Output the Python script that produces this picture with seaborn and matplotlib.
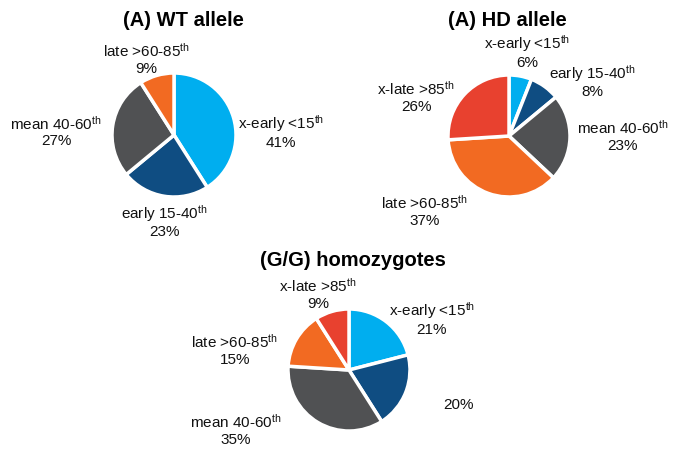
import matplotlib
matplotlib.use("Agg")
import matplotlib.pyplot as plt
import seaborn as sns

sns.set_theme(style="white")
plt.rcParams["font.family"] = ["Liberation Sans", "DejaVu Sans"]
plt.rcParams["mathtext.fontset"] = "custom"
plt.rcParams["mathtext.rm"] = "Liberation Sans"
plt.rcParams["mathtext.it"] = "Liberation Sans"

# Onset-age categories (percentile bands)
categories = ["x-early <15", "early 15-40", "mean 40-60", "late >60-85", "x-late >85"]
colors = sns.color_palette(["#00AEEF", "#0F4D82", "#505153", "#F26A22", "#E8412F"])

wt_values = [41, 23, 27, 9]
hd_values = [6, 8, 23, 37, 26]
gg_values = [21, 20, 35, 15, 9]

titles = ["(A) WT allele", "(A) HD allele", "(G/G) homozygotes"]

W, H = 675, 449
fig = plt.figure(figsize=(W / 100, H / 100), dpi=100)
ax = fig.add_axes([0, 0, 1, 1])
ax.set_xlim(0, W)
ax.set_ylim(0, H)
ax.set_aspect("equal")
ax.axis("off")

# pie layout: centre (x, y from top), radius, title position, label offsets (in radii)
panels = [
    dict(values=wt_values, cx=174, cy=135, r=62, tx=183, ty=20,
         offsets=[(1.73, 0.06), (-0.15, -1.39), (-1.9, 0.06), (-0.44, 1.23)],
         show_name=[True, True, True, True]),
    dict(values=hd_values, cx=509, cy=136, r=61, tx=507, ty=21,
         offsets=[(0.30, 1.38), (1.36, 0.9), (1.86, 0.0), (-1.39, -1.23), (-1.52, 0.64)],
         show_name=[True, True, True, True, True]),
    dict(values=gg_values, cx=349, cy=370, r=61, tx=353, ty=260,
         offsets=[(1.36, 0.84), (1.79, -0.57), (-1.85, -0.98), (-1.87, 0.33), (-0.51, 1.25)],
         show_name=[True, False, True, True, True]),
]

for title, p in zip(titles, panels):
    n = len(p["values"])
    cx, cy = p["cx"], H - p["cy"]
    ax.pie(p["values"], colors=colors[:n], startangle=90, counterclock=False,
           center=(cx, cy), radius=p["r"],
           wedgeprops=dict(edgecolor="white", linewidth=2.5))
    ax.text(p["tx"], H - p["ty"], title, ha="center", va="center",
            fontsize=14.5, fontweight="bold", color="black")
    for cat, v, (dx, dy), show in zip(categories, p["values"], p["offsets"], p["show_name"]):
        label = f"{cat}$^{{\\mathrm{{th}}}}$\n{v}%" if show else f"{v}%"
        ax.text(cx + dx * p["r"], cy + dy * p["r"], label, ha="center", va="center",
                multialignment="center", fontsize=11, color="#111111", linespacing=1.15)

ax.set_xlim(0, W)
ax.set_ylim(0, H)
fig.savefig("out.png", dpi=100)
